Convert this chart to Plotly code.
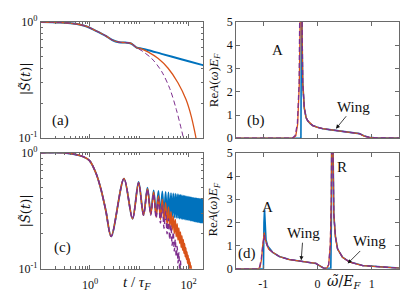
import plotly.graph_objects as go

W, H = 407, 305
SERIF = "Liberation Serif, DejaVu Serif, serif"
DJ = "DejaVu Serif, serif"
BLUE, ORANGE, PURPLE = "#0072BD", "#D95319", "#7E2F8E"

# ---------------- panel (a): |S(t)| ----------------
t_a_common = [0.1, 0.24, 0.45, 0.83, 1.32, 2.09, 2.83, 3.85, 5.25, 6.6, 7.7, 8.96, 11.3]
s_a_common = [1.0, 0.99, 0.97, 0.92, 0.84, 0.76, 0.70, 0.67, 0.665, 0.657, 0.63, 0.60, 0.59]
t_a_blue_tail = [15.3, 28.3, 71.0, 179.0, 200.0]
s_a_blue_tail = [0.572, 0.532, 0.478, 0.43, 0.425]
t_a_orange_tail = [15.3, 24.3, 38.5, 61.0, 89.5, 113.0, 132.0, 142.0, 150.0]
s_a_orange_tail = [0.55, 0.485, 0.40, 0.30, 0.214, 0.156, 0.117, 0.10, 0.085]
t_a_purple_tail = [17.9, 28.3, 41.7, 56.5, 71.0, 79.0, 85.0]
s_a_purple_tail = [0.485, 0.377, 0.267, 0.177, 0.121, 0.10, 0.085]

# ---------------- panel (c): |S(t)| oscillating ----------------
t_c_pre = [0.1, 0.3, 0.71, 0.97, 1.32, 1.66, 2.09]
s_c_pre = [1.0, 1.0, 0.93, 0.86, 0.67, 0.49, 0.32]
t_c_ext = [2.7, 4.9, 7.3, 9.7, 12.2, 14.7, 17.1, 19.6, 22.0, 24.5, 26.9, 29.4, 31.8, 34.3,
           36.7, 39.2, 41.6, 44.1, 46.5, 49.0, 51.4, 53.9, 56.3, 58.8, 61.2, 63.7, 66.1, 68.6,
           71.0, 73.5, 75.9, 78.4, 80.8, 83.3, 85.7, 88.2, 90.6, 93.1, 95.5, 98.0, 100.4, 102.9,
           105.3, 107.8, 110.2, 112.7, 115.1, 117.6, 120.0, 122.5, 124.9, 127.4, 129.8, 132.3,
           134.7, 137.2, 139.6, 142.1, 144.5, 147.0, 149.4, 151.9, 154.3, 156.8, 159.2, 161.7,
           164.1, 166.6, 169.0, 171.5, 173.9, 176.4, 178.8, 181.3, 183.7, 186.2, 188.6, 191.1,
           193.5, 196.0]
s_c_blue = [0.19, 0.60, 0.27, 0.56, 0.29, 0.50, 0.30, 0.475, 0.295, 0.47, 0.29, 0.465, 0.287, 0.46,
            0.284, 0.455, 0.281, 0.45, 0.279, 0.447, 0.277, 0.444, 0.275, 0.44, 0.273, 0.437, 0.271,
            0.434, 0.269, 0.431, 0.268, 0.428, 0.267, 0.425, 0.266, 0.422, 0.265, 0.42, 0.264, 0.418,
            0.263, 0.416, 0.262, 0.414, 0.261, 0.412, 0.26, 0.41, 0.259, 0.409, 0.258, 0.408, 0.257,
            0.407, 0.256, 0.406, 0.255, 0.405, 0.255, 0.404, 0.254, 0.403, 0.253, 0.402, 0.253, 0.401,
            0.252, 0.40, 0.252, 0.40, 0.251, 0.399, 0.251, 0.398, 0.25, 0.397, 0.25, 0.396, 0.25, 0.395]
s_c_orange = [0.19, 0.60, 0.27, 0.555, 0.29, 0.49, 0.295, 0.46, 0.280, 0.426, 0.266, 0.397, 0.256,
              0.371, 0.241, 0.340, 0.227, 0.310, 0.216, 0.285, 0.202, 0.266, 0.189, 0.244, 0.177,
              0.225, 0.166, 0.207, 0.153, 0.193, 0.145, 0.179, 0.136, 0.165, 0.127, 0.152, 0.121,
              0.140, 0.112, 0.131, 0.106, 0.122, 0.100, 0.114, 0.094, 0.106, 0.088, 0.099, 0.083,
              0.093, 0.078, 0.087]
s_c_purple = [0.19, 0.60, 0.27, 0.55, 0.29, 0.485, 0.29, 0.445, 0.274, 0.399, 0.248, 0.354, 0.224,
              0.312, 0.200, 0.271, 0.179, 0.236, 0.159, 0.207, 0.142, 0.179, 0.127, 0.156, 0.112,
              0.138, 0.097, 0.118, 0.084, 0.100, 0.074, 0.088]

# ---------------- panel (b): Re A(w) E_F ----------------
w_b_blue = [-1.5, -0.305, -0.30, -0.295, -0.285, -0.272, -0.243, -0.21, -0.18, -0.13, -0.088,
            0.0, 0.096, 0.22, 0.34, 0.50, 0.648, 0.77, 0.86, 0.95, 1.05, 1.14, 1.5]
a_b_blue = [0.0, 0.0, 3.0, 9.0, 4.5, 2.4, 1.3, 0.89, 0.75, 0.62, 0.545,
            0.47, 0.41, 0.37, 0.34, 0.30, 0.26, 0.20, 0.095, 0.04, 0.02, 0.012, 0.005]
w_b_orange = [-1.5, -0.45, -0.40, -0.365, -0.334, -0.315, -0.30, -0.285, -0.272, -0.243, -0.21,
              -0.18, -0.13, -0.088, 0.0, 0.096, 0.22, 0.34, 0.50, 0.648, 0.77, 0.86, 0.95, 1.05,
              1.14, 1.5]
a_b_orange = [0.0, 0.01, 0.1, 0.61, 2.4, 8.0, 9.0, 4.5, 2.4, 1.3, 0.89,
              0.75, 0.62, 0.545, 0.47, 0.41, 0.37, 0.34, 0.30, 0.26, 0.20, 0.095, 0.04, 0.02,
              0.012, 0.005]
w_b_purple = [-1.5, -0.46, -0.41, -0.37, -0.338, -0.318, -0.30, -0.285, -0.272, -0.243, -0.21,
              -0.18, -0.13, -0.088, 0.0, 0.096, 0.22, 0.34, 0.50, 0.648, 0.77, 0.86, 0.95, 1.05,
              1.14, 1.5]
a_b_purple = [0.0, 0.01, 0.12, 0.65, 2.4, 8.0, 9.0, 4.5, 2.4, 1.3, 0.89,
              0.75, 0.62, 0.545, 0.47, 0.41, 0.37, 0.34, 0.30, 0.26, 0.20, 0.095, 0.04, 0.02,
              0.012, 0.005]

# ---------------- panel (d): Re A(w) E_F ----------------
w_d_blue = [-1.5, -0.995, -0.985, -0.975, -0.948, -0.917, -0.825, -0.703, -0.519, -0.272, -0.028,
            0.033, 0.083, 0.12, 0.245, 0.255, 0.268, 0.28, 0.30, 0.33, 0.37, 0.46, 0.585, 0.83,
            1.26, 1.5]
a_d_blue = [0.0, 0.0, 2.0, 2.55, 1.26, 0.98, 0.71, 0.53, 0.40, 0.30, 0.23,
            0.14, 0.05, 0.02, 0.02, 2.0, 9.0, 5.0, 2.35, 1.39, 0.85, 0.50, 0.30, 0.14,
            0.05, 0.03]
w_d_orange = [-1.5, -1.1, -1.06, -1.03, -1.01, -0.98, -0.96, -0.93, -0.90, -0.825, -0.703, -0.519,
              -0.272, -0.028, 0.033, 0.083, 0.12, 0.17, 0.205, 0.235, 0.255, 0.268, 0.285, 0.30,
              0.33, 0.37, 0.46, 0.585, 0.83, 1.26, 1.5]
a_d_orange = [0.0, 0.0, 0.05, 0.4, 0.98, 1.56, 1.25, 1.0, 0.85, 0.71, 0.53, 0.40,
              0.30, 0.23, 0.14, 0.05, 0.02, 0.03, 0.16, 0.98, 3.0, 9.0, 5.0, 2.35,
              1.39, 0.85, 0.50, 0.30, 0.14, 0.05, 0.03]
w_d_purple = [-1.5, -1.11, -1.07, -1.035, -1.01, -0.98, -0.96, -0.93, -0.90, -0.825, -0.703, -0.519,
              -0.272, -0.028, 0.033, 0.083, 0.12, 0.17, 0.205, 0.235, 0.255, 0.268, 0.285, 0.30,
              0.33, 0.37, 0.46, 0.585, 0.83, 1.26, 1.5]
a_d_purple = [0.0, 0.0, 0.05, 0.42, 0.95, 1.45, 1.2, 1.0, 0.85, 0.71, 0.53, 0.40,
              0.30, 0.23, 0.14, 0.05, 0.02, 0.03, 0.18, 1.0, 3.0, 9.0, 5.0, 2.35,
              1.39, 0.85, 0.50, 0.30, 0.14, 0.05, 0.03]

fig = go.Figure()


def add(x, y, color, width, dash, xa, ya, shape="linear"):
    line = dict(color=color, width=width, dash=dash, shape=shape)
    if shape == "spline":
        line["smoothing"] = 0.9
    fig.add_trace(go.Scatter(x=x, y=y, mode="lines", line=line, xaxis=xa, yaxis=ya,
                             showlegend=False, hoverinfo="skip"))


DASH = "5px,3px"
# (a)
add(t_a_common + t_a_blue_tail, s_a_common + s_a_blue_tail, BLUE, 2.0, "solid", "x", "y", "spline")
add(t_a_common + t_a_orange_tail, s_a_common[:-1] + [0.585] + s_a_orange_tail, ORANGE, 1.3, "solid", "x", "y", "spline")
add(t_a_common + t_a_purple_tail, s_a_common[:-1] + [0.565] + s_a_purple_tail, PURPLE, 1.0, DASH, "x", "y", "spline")
# (c)
add(t_c_pre + t_c_ext, s_c_pre + s_c_blue, BLUE, 1.8, "solid", "x3", "y3", "spline")
add(t_c_pre + t_c_ext[:len(s_c_orange)], s_c_pre + s_c_orange, ORANGE, 1.6, "solid", "x3", "y3", "spline")
add(t_c_pre + t_c_ext[:len(s_c_purple)], s_c_pre + s_c_purple, PURPLE, 1.4, DASH, "x3", "y3", "spline")
# (b)
add(w_b_blue, a_b_blue, BLUE, 1.6, "solid", "x2", "y2")
add(w_b_orange, a_b_orange, ORANGE, 1.3, "solid", "x2", "y2")
add(w_b_purple, a_b_purple, PURPLE, 1.3, DASH, "x2", "y2")
# (d)
add(w_d_blue, a_d_blue, BLUE, 1.6, "solid", "x4", "y4")
add(w_d_orange, a_d_orange, ORANGE, 1.3, "solid", "x4", "y4")
add(w_d_purple, a_d_purple, PURPLE, 1.3, DASH, "x4", "y4")

AX = "#6a6a6a"
XL = [40.7 / W, 203.3 / W]
XR = [236 / W, 399 / W]
YT = [1 - 137 / H, 1 - 14.7 / H]
YB = [1 - 274.3 / H, 1 - 152.3 / H]


def base(**kw):
    d = dict(showline=True, linecolor=AX, linewidth=0.8, mirror="ticks", ticks="inside",
             ticklen=4, tickwidth=0.8, tickcolor=AX, showgrid=False, zeroline=False,
             tickfont=dict(family=SERIF, size=12, color="#111"))
    d.update(kw)
    return d


log_minor_x = [v * m for m in (0.1, 1, 10) for v in range(2, 10)] + [10, 200]
log_minor_y = [0.1 * v for v in range(2, 10)]
minor_x = dict(tickvals=log_minor_x, ticks="inside", ticklen=2.5, tickwidth=0.6, tickcolor=AX)
minor_y = dict(tickvals=log_minor_y, ticks="inside", ticklen=2.5, tickwidth=0.6, tickcolor=AX)

fig.update_layout(
    width=W, height=H, margin=dict(l=0, r=0, t=0, b=0),
    paper_bgcolor="white", plot_bgcolor="white",
    font=dict(family=SERIF, size=12, color="#111"),
    xaxis=base(domain=XL, anchor="y", type="log", range=[-1, 2.3], tickvals=[1, 100],
               showticklabels=False, minor=minor_x),
    yaxis=base(domain=YT, anchor="x", type="log", range=[-1, 0], tickvals=[0.1, 1],
               ticktext=["10<sup>-1</sup>", "10<sup>0</sup>"], minor=minor_y),
    xaxis2=base(domain=XR, anchor="y2", range=[-1.5, 1.5], tickvals=[-1, 0, 1], showticklabels=False),
    yaxis2=base(domain=YT, anchor="x2", range=[0, 5], tickvals=[0, 1, 2, 3, 4, 5]),
    xaxis3=base(domain=XL, anchor="y3", type="log", range=[-1, 2.3], tickvals=[1, 100],
                ticktext=["10<sup>0</sup>", "10<sup>2</sup>"], minor=minor_x,
                ticklabelstandoff=5),
    yaxis3=base(domain=YB, anchor="x3", type="log", range=[-1, 0], tickvals=[0.1, 1],
                ticktext=["10<sup>-1</sup>", "10<sup>0</sup>"], minor=minor_y),
    xaxis4=base(domain=XR, anchor="y4", range=[-1.5, 1.5], tickvals=[-1, 0, 1],
                ticktext=["-1", "0", "1"], ticklabelstandoff=4),
    yaxis4=base(domain=YB, anchor="x4", range=[0, 5], tickvals=[0, 1, 2, 3, 4, 5]),
)


def label(text, px, py, size=15, angle=0, family=SERIF):
    fig.add_annotation(text=text, x=px / W, y=1 - py / H, xref="paper", yref="paper",
                       showarrow=False, textangle=angle, xanchor="center", yanchor="middle",
                       font=dict(family=family, size=size, color="#111"))


label("(a)", 60, 118)
label("(c)", 62, 252)
label("(b)", 256, 118)
label("(d)", 247, 258)
label("A", 277, 44)
label("A", 267, 209)
label("R", 342, 167)
label("|<i>S̃</i>(<i>t</i>)|", 25, 75, 13, -90, DJ)
label("|<i>S̃</i>(<i>t</i>)|", 25, 214, 13, -90, DJ)
label("Re<i>A</i>(<i>ω</i>)<i>E</i><sub><i>F</i></sub>", 214, 76, 13, -90)
label("Re<i>A</i>(<i>ω</i>)<i>E</i><sub><i>F</i></sub>", 214, 212, 13, -90)
label("<i>t</i> / <i>τ</i><sub><i>F</i></sub>", 137, 289, 15)
label("<i>ω̃</i>/<i>E</i><sub><i>F</i></sub>", 344, 288, 14, 0, DJ)


def wing(xa, ya, x, y, ax, ay):
    fig.add_annotation(text="Wing", x=x, y=y, xref=xa, yref=ya, ax=ax, ay=ay,
                       showarrow=True, arrowhead=2, arrowsize=1, arrowwidth=0.8,
                       arrowcolor="#111", font=dict(family=SERIF, size=15, color="#111"))


wing("x2", "y2", 0.34, 0.41, 18, -22)
wing("x4", "y4", -0.30, 0.37, 2, -27)
wing("x4", "y4", 0.556, 0.23, 22, -22)

fig.write_html("out.html", config={"displayModeBar": False},
               post_script="document.body.style.margin='0px';")
